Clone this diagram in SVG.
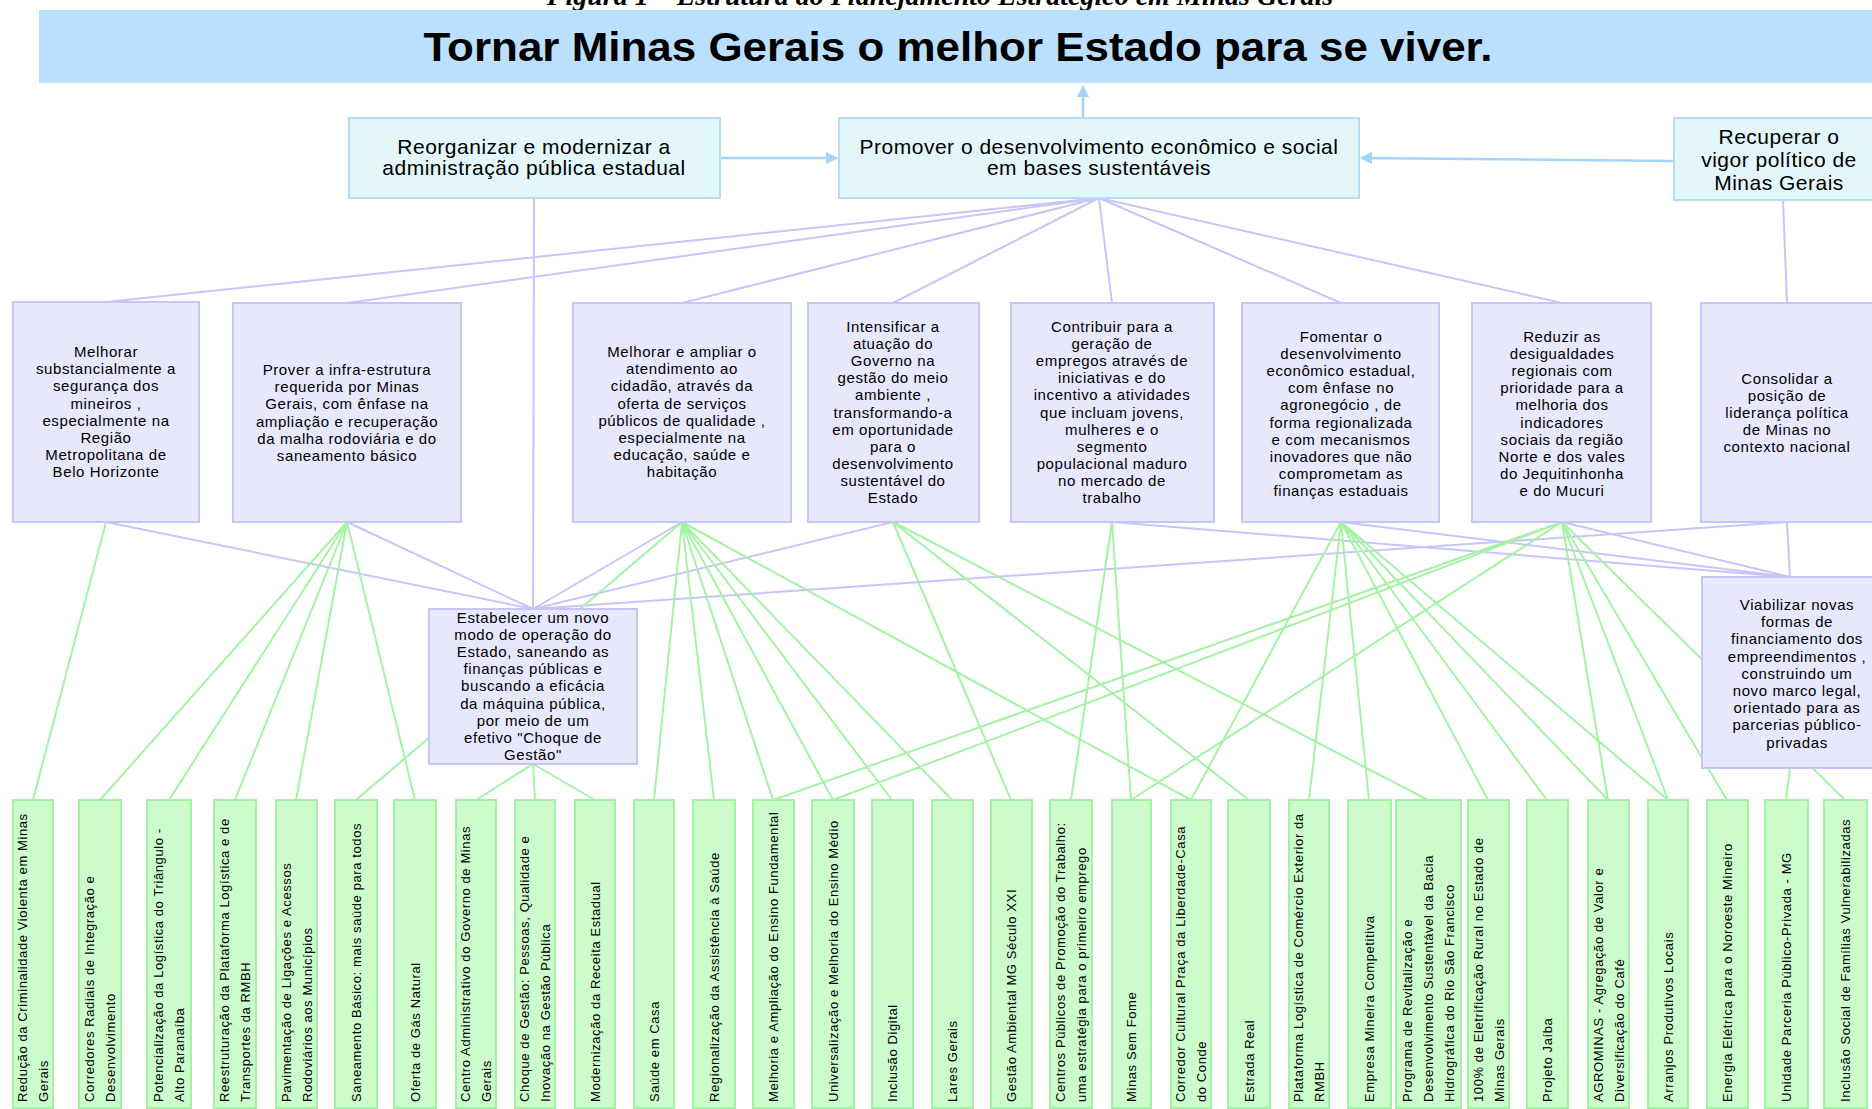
<svg xmlns="http://www.w3.org/2000/svg" width="1872" height="1109" viewBox="0 0 1872 1109">
<style>
.t1 {fill:#bae0fd}
.t2 {fill:#e3f6f9; stroke:#b4dcf4; stroke-width:2}
.t3 {fill:#e8e8fd; stroke:#c6c6f6; stroke-width:2}
.t4 {fill:#ccfccc; stroke:#a4f0a4; stroke-width:2}
.l3 {stroke:#c6c6f8; stroke-width:2; fill:none}
.lg {stroke:#a4f2a4; stroke-width:2; fill:none}
.ar {stroke:#a4d4fa; stroke-width:2.5; fill:none}
text {font-family:"Liberation Sans", Arial, sans-serif; fill:#000}
.cap {font-family:"Liberation Serif", "Times New Roman", serif; font-style:italic; font-weight:bold; font-size:28px; text-anchor:middle}
.s1 {font-size:41px; font-weight:bold; text-anchor:middle}
.s2 {font-size:21px; text-anchor:middle; letter-spacing:0.5px}
.s3 {font-size:15px; text-anchor:middle; letter-spacing:0.6px}
.s4 {font-size:13px; letter-spacing:0.6px}
</style>
<defs>
<marker id="ah" viewBox="0 0 10 10" refX="9" refY="5" markerWidth="5" markerHeight="5" orient="auto" markerUnits="strokeWidth"><path d="M0,0 L10,5 L0,10 z" fill="#a4d4fa"/></marker>
</defs>
<rect width="1872" height="1109" fill="#ffffff"/>
<text class="cap" x="940" y="5">Figura 1 – Estrutura do Planejamento Estratégico em Minas Gerais</text>

<g id="connectors">
<g id="arrows">
<path class="ar" d="M1083,118 L1083,86" marker-end="url(#ah)"/>
<path class="ar" d="M720,158 L837,158" marker-end="url(#ah)"/>
<path class="ar" d="M1674,161 L1361,158" marker-end="url(#ah)"/>
</g>
<g id="lavender-lines">
<path class="l3" d="M1099,198 L106,302 M1099,198 L347,303 M1099,198 L682,303 M1099,198 L893,303 M1099,198 L1112,303 M1099,198 L1341,303 M1099,198 L1562,303 M1783,200 L1787,302 M534,198 L533,609 M106,522 L533,609 M347,522 L533,609 M682,522 L533,609 M893,522 L533,609 M1787,522 L533,609 M1112,522 L1790,577 M1341,522 L1790,577 M1562,522 L1790,577 M1787,522 L1790,577"/>
</g>
<g id="green-lines">
<path class="lg" d="M106,522 L33,800 M347,522 L100,800 M347,522 L169,800 M347,522 L235,800 M347,522 L296,800 M347,522 L415,800 M682,522 L356,800 M682,522 L654,800 M682,522 L714,800 M682,522 L773,800 M682,522 L833,800 M682,522 L892,800 M682,522 L952,800 M682,522 L1191,800 M893,522 L1011,800 M893,522 L1249,800 M893,522 L1428,800 M1112,522 L1071,800 M1112,522 L1131,800 M1341,522 L1191,800 M1341,522 L1309,800 M1341,522 L1369,800 M1341,522 L1488,800 M1341,522 L1547,800 M1341,522 L1608,800 M1341,522 L1668,800 M1562,522 L773,800 M1562,522 L833,800 M1562,522 L1131,800 M1562,522 L1608,800 M1562,522 L1668,800 M1562,522 L1727,800 M1562,522 L1845,800 M533,764 L476,800 M533,764 L535,800 M533,764 L595,800 M1790,768 L1786,800"/>
</g>
</g>

<g id="n-vision">
<rect class="t1" x="39" y="10" width="1840" height="73"/>
<text class="s1" x="958" y="61" textLength="1069" lengthAdjust="spacingAndGlyphs">Tornar Minas Gerais o melhor Estado para se viver.</text>
</g>

<g id="n-reorganizar">
<rect class="t2" x="349" y="118" width="371" height="80"/>
<text class="s2" x="534" y="154"><tspan x="534">Reorganizar e modernizar a</tspan><tspan x="534" dy="21">administração pública estadual</tspan></text>
</g>
<g id="n-promover">
<rect class="t2" x="839" y="118" width="520" height="80"/>
<text class="s2" x="1099" y="154"><tspan x="1099">Promover o desenvolvimento econômico e social</tspan><tspan x="1099" dy="21">em bases sustentáveis</tspan></text>
</g>
<g id="n-recuperar">
<rect class="t2" x="1674" y="118" width="210" height="82"/>
<text class="s2" x="1779" y="144"><tspan x="1779">Recuperar o</tspan><tspan x="1779" dy="23">vigor político de</tspan><tspan x="1779" dy="23">Minas Gerais</tspan></text>
</g>

<g id="n-seguranca">
<rect class="t3" x="13" y="302" width="186" height="220"/>
<text class="s3" y="357"><tspan x="106">Melhorar</tspan><tspan x="106" dy="17.2">substancialmente a</tspan><tspan x="106" dy="17.2">segurança dos</tspan><tspan x="106" dy="17.2">mineiros ,</tspan><tspan x="106" dy="17.2">especialmente na</tspan><tspan x="106" dy="17.2">Região</tspan><tspan x="106" dy="17.2">Metropolitana de</tspan><tspan x="106" dy="17.2">Belo Horizonte</tspan></text>
</g>
<g id="n-infra">
<rect class="t3" x="233" y="303" width="228" height="219"/>
<text class="s3" y="375"><tspan x="347">Prover a infra-estrutura</tspan><tspan x="347" dy="17.2">requerida por Minas</tspan><tspan x="347" dy="17.2">Gerais, com ênfase na</tspan><tspan x="347" dy="17.2">ampliação e recuperação</tspan><tspan x="347" dy="17.2">da malha rodoviária e do</tspan><tspan x="347" dy="17.2">saneamento básico</tspan></text>
</g>
<g id="n-atendimento">
<rect class="t3" x="573" y="303" width="218" height="219"/>
<text class="s3" y="357"><tspan x="682">Melhorar e ampliar o</tspan><tspan x="682" dy="17.2">atendimento ao</tspan><tspan x="682" dy="17.2">cidadão, através da</tspan><tspan x="682" dy="17.2">oferta de serviços</tspan><tspan x="682" dy="17.2">públicos de qualidade ,</tspan><tspan x="682" dy="17.2">especialmente na</tspan><tspan x="682" dy="17.2">educação, saúde e</tspan><tspan x="682" dy="17.2">habitação</tspan></text>
</g>
<g id="n-meioambiente">
<rect class="t3" x="808" y="303" width="171" height="219"/>
<text class="s3" y="332"><tspan x="893">Intensificar a</tspan><tspan x="893" dy="17.1">atuação do</tspan><tspan x="893" dy="17.1">Governo na</tspan><tspan x="893" dy="17.1">gestão do meio</tspan><tspan x="893" dy="17.1">ambiente ,</tspan><tspan x="893" dy="17.1">transformando-a</tspan><tspan x="893" dy="17.1">em oportunidade</tspan><tspan x="893" dy="17.1">para o</tspan><tspan x="893" dy="17.1">desenvolvimento</tspan><tspan x="893" dy="17.1">sustentável do</tspan><tspan x="893" dy="17.1">Estado</tspan></text>
</g>
<g id="n-empregos">
<rect class="t3" x="1011" y="303" width="203" height="219"/>
<text class="s3" y="332"><tspan x="1112">Contribuir para a</tspan><tspan x="1112" dy="17.1">geração de</tspan><tspan x="1112" dy="17.1">empregos através de</tspan><tspan x="1112" dy="17.1">iniciativas e do</tspan><tspan x="1112" dy="17.1">incentivo a atividades</tspan><tspan x="1112" dy="17.1">que incluam jovens,</tspan><tspan x="1112" dy="17.1">mulheres e o</tspan><tspan x="1112" dy="17.1">segmento</tspan><tspan x="1112" dy="17.1">populacional maduro</tspan><tspan x="1112" dy="17.1">no mercado de</tspan><tspan x="1112" dy="17.1">trabalho</tspan></text>
</g>
<g id="n-fomentar">
<rect class="t3" x="1242" y="303" width="197" height="219"/>
<text class="s3" y="342"><tspan x="1341">Fomentar o</tspan><tspan x="1341" dy="17.1">desenvolvimento</tspan><tspan x="1341" dy="17.1">econômico estadual,</tspan><tspan x="1341" dy="17.1">com ênfase no</tspan><tspan x="1341" dy="17.1">agronegócio , de</tspan><tspan x="1341" dy="17.1">forma regionalizada</tspan><tspan x="1341" dy="17.1">e com mecanismos</tspan><tspan x="1341" dy="17.1">inovadores que não</tspan><tspan x="1341" dy="17.1">comprometam as</tspan><tspan x="1341" dy="17.1">finanças estaduais</tspan></text>
</g>
<g id="n-desigualdades">
<rect class="t3" x="1472" y="303" width="179" height="219"/>
<text class="s3" y="342"><tspan x="1562">Reduzir as</tspan><tspan x="1562" dy="17.1">desigualdades</tspan><tspan x="1562" dy="17.1">regionais com</tspan><tspan x="1562" dy="17.1">prioridade para a</tspan><tspan x="1562" dy="17.1">melhoria dos</tspan><tspan x="1562" dy="17.1">indicadores</tspan><tspan x="1562" dy="17.1">sociais da região</tspan><tspan x="1562" dy="17.1">Norte e dos vales</tspan><tspan x="1562" dy="17.1">do Jequitinhonha</tspan><tspan x="1562" dy="17.1">e do Mucuri</tspan></text>
</g>
<g id="n-lideranca">
<rect class="t3" x="1701" y="303" width="190" height="219"/>
<text class="s3" y="384"><tspan x="1787">Consolidar a</tspan><tspan x="1787" dy="17.1">posição de</tspan><tspan x="1787" dy="17.1">liderança política</tspan><tspan x="1787" dy="17.1">de Minas no</tspan><tspan x="1787" dy="17.1">contexto nacional</tspan></text>
</g>
<g id="n-estabelecer">
<rect class="t3" x="429" y="609" width="208" height="155"/>
<text class="s3" y="623"><tspan x="533">Estabelecer um novo</tspan><tspan x="533" dy="17.1">modo de operação do</tspan><tspan x="533" dy="17.1">Estado, saneando as</tspan><tspan x="533" dy="17.1">finanças públicas e</tspan><tspan x="533" dy="17.1">buscando a eficácia</tspan><tspan x="533" dy="17.1">da máquina pública,</tspan><tspan x="533" dy="17.1">por meio de um</tspan><tspan x="533" dy="17.1">efetivo "Choque de</tspan><tspan x="533" dy="17.1">Gestão"</tspan></text>
</g>
<g id="n-viabilizar">
<rect class="t3" x="1702" y="577" width="190" height="191"/>
<text class="s3" y="610"><tspan x="1797">Viabilizar novas</tspan><tspan x="1797" dy="17.2">formas de</tspan><tspan x="1797" dy="17.2">financiamento dos</tspan><tspan x="1797" dy="17.2">empreendimentos ,</tspan><tspan x="1797" dy="17.2">construindo um</tspan><tspan x="1797" dy="17.2">novo marco legal,</tspan><tspan x="1797" dy="17.2">orientado para as</tspan><tspan x="1797" dy="17.2">parcerias público-</tspan><tspan x="1797" dy="17.2">privadas</tspan></text>
</g>

<g id="projects">
<g id="p01"><rect class="t4" x="13" y="800" width="40" height="308"/><text class="s4" transform="translate(27,1102) rotate(-90)"><tspan x="0" y="0">Redução da Criminalidade Violenta em Minas</tspan><tspan x="0" y="21">Gerais</tspan></text></g>
<g id="p02"><rect class="t4" x="79" y="800" width="42" height="308"/><text class="s4" transform="translate(94,1102) rotate(-90)"><tspan x="0" y="0">Corredores Radiais de Integração e</tspan><tspan x="0" y="21">Desenvolvimento</tspan></text></g>
<g id="p03"><rect class="t4" x="147" y="800" width="44" height="308"/><text class="s4" transform="translate(163,1102) rotate(-90)"><tspan x="0" y="0">Potencialização da Logística do Triângulo -</tspan><tspan x="0" y="21">Alto Paranaíba</tspan></text></g>
<g id="p04"><rect class="t4" x="214" y="800" width="42" height="308"/><text class="s4" transform="translate(229,1102) rotate(-90)"><tspan x="0" y="0">Reestruturação da Plataforma Logística e de</tspan><tspan x="0" y="21">Transportes da RMBH</tspan></text></g>
<g id="p05"><rect class="t4" x="276" y="800" width="41" height="308"/><text class="s4" transform="translate(290.5,1102) rotate(-90)"><tspan x="0" y="0">Pavimentação de Ligações e Acessos</tspan><tspan x="0" y="21">Rodoviários aos Municípios</tspan></text></g>
<g id="p06"><rect class="t4" x="335" y="800" width="42" height="308"/><text class="s4" transform="translate(360.5,1102) rotate(-90)">Saneamento Básico: mais saúde para todos</text></g>
<g id="p07"><rect class="t4" x="394" y="800" width="42" height="308"/><text class="s4" transform="translate(419.5,1102) rotate(-90)">Oferta de Gás Natural</text></g>
<g id="p08"><rect class="t4" x="456" y="800" width="40" height="308"/><text class="s4" transform="translate(470,1102) rotate(-90)"><tspan x="0" y="0">Centro Administrativo do Governo de Minas</tspan><tspan x="0" y="21">Gerais</tspan></text></g>
<g id="p09"><rect class="t4" x="515" y="800" width="40" height="308"/><text class="s4" transform="translate(529,1102) rotate(-90)"><tspan x="0" y="0">Choque de Gestão: Pessoas, Qualidade e</tspan><tspan x="0" y="21">Inovação na Gestão Pública</tspan></text></g>
<g id="p10"><rect class="t4" x="575" y="800" width="40" height="308"/><text class="s4" transform="translate(599.5,1102) rotate(-90)">Modernização da Receita Estadual</text></g>
<g id="p11"><rect class="t4" x="634" y="800" width="40" height="308"/><text class="s4" transform="translate(658.5,1102) rotate(-90)">Saúde em Casa</text></g>
<g id="p12"><rect class="t4" x="693" y="800" width="42" height="308"/><text class="s4" transform="translate(718.5,1102) rotate(-90)">Regionalização da Assistência à Saúde</text></g>
<g id="p13"><rect class="t4" x="753" y="800" width="41" height="308"/><text class="s4" transform="translate(778,1102) rotate(-90)">Melhoria e Ampliação do Ensino Fundamental</text></g>
<g id="p14"><rect class="t4" x="812" y="800" width="42" height="308"/><text class="s4" transform="translate(837.5,1102) rotate(-90)">Universalização e Melhoria do Ensino Médio</text></g>
<g id="p15"><rect class="t4" x="872" y="800" width="41" height="308"/><text class="s4" transform="translate(897,1102) rotate(-90)">Inclusão Digital</text></g>
<g id="p16"><rect class="t4" x="932" y="800" width="41" height="308"/><text class="s4" transform="translate(957,1102) rotate(-90)">Lares Gerais</text></g>
<g id="p17"><rect class="t4" x="991" y="800" width="41" height="308"/><text class="s4" transform="translate(1016,1102) rotate(-90)">Gestão Ambiental MG Século XXI</text></g>
<g id="p18"><rect class="t4" x="1050" y="800" width="42" height="308"/><text class="s4" transform="translate(1065,1102) rotate(-90)"><tspan x="0" y="0">Centros Públicos de Promoção do Trabalho:</tspan><tspan x="0" y="21">uma estratégia para o primeiro emprego</tspan></text></g>
<g id="p19"><rect class="t4" x="1112" y="800" width="39" height="308"/><text class="s4" transform="translate(1136,1102) rotate(-90)">Minas Sem Fome</text></g>
<g id="p20"><rect class="t4" x="1171" y="800" width="40" height="308"/><text class="s4" transform="translate(1185,1102) rotate(-90)"><tspan x="0" y="0">Corredor Cultural Praça da Liberdade-Casa</tspan><tspan x="0" y="21">do Conde</tspan></text></g>
<g id="p21"><rect class="t4" x="1228" y="800" width="42" height="308"/><text class="s4" transform="translate(1253.5,1102) rotate(-90)">Estrada Real</text></g>
<g id="p22"><rect class="t4" x="1289" y="800" width="40" height="308"/><text class="s4" transform="translate(1303,1102) rotate(-90)"><tspan x="0" y="0">Plataforma Logística de Comércio Exterior da</tspan><tspan x="0" y="21">RMBH</tspan></text></g>
<g id="p23"><rect class="t4" x="1348" y="800" width="43" height="308"/><text class="s4" transform="translate(1374,1102) rotate(-90)">Empresa Mineira Competitiva</text></g>
<g id="p24"><rect class="t4" x="1396" y="800" width="65" height="308"/><text class="s4" transform="translate(1412,1102) rotate(-90)"><tspan x="0" y="0">Programa de Revitalização e</tspan><tspan x="0" y="21">Desenvolvimento Sustentável da Bacia</tspan><tspan x="0" y="42">Hidrográfica do Rio São Francisco</tspan></text></g>
<g id="p25"><rect class="t4" x="1468" y="800" width="41" height="308"/><text class="s4" transform="translate(1482.5,1102) rotate(-90)"><tspan x="0" y="0">100% de Eletrificação Rural no Estado de</tspan><tspan x="0" y="21">Minas Gerais</tspan></text></g>
<g id="p26"><rect class="t4" x="1527" y="800" width="41" height="308"/><text class="s4" transform="translate(1552,1102) rotate(-90)">Projeto Jaíba</text></g>
<g id="p27"><rect class="t4" x="1588" y="800" width="41" height="308"/><text class="s4" transform="translate(1602.5,1102) rotate(-90)"><tspan x="0" y="0">AGROMINAS - Agregação de Valor e</tspan><tspan x="0" y="21">Diversificação do Café</tspan></text></g>
<g id="p28"><rect class="t4" x="1648" y="800" width="40" height="308"/><text class="s4" transform="translate(1672.5,1102) rotate(-90)">Arranjos Produtivos Locais</text></g>
<g id="p29"><rect class="t4" x="1707" y="800" width="41" height="308"/><text class="s4" transform="translate(1732,1102) rotate(-90)">Energia Elétrica para o Noroeste Mineiro</text></g>
<g id="p30"><rect class="t4" x="1765" y="800" width="43" height="308"/><text class="s4" transform="translate(1791,1102) rotate(-90)">Unidade Parceria Público-Privada - MG</text></g>
<g id="p31"><rect class="t4" x="1824" y="800" width="43" height="308"/><text class="s4" transform="translate(1850,1102) rotate(-90)">Inclusão Social de Famílias Vulnerabilizadas</text></g>
</g>
</svg>
